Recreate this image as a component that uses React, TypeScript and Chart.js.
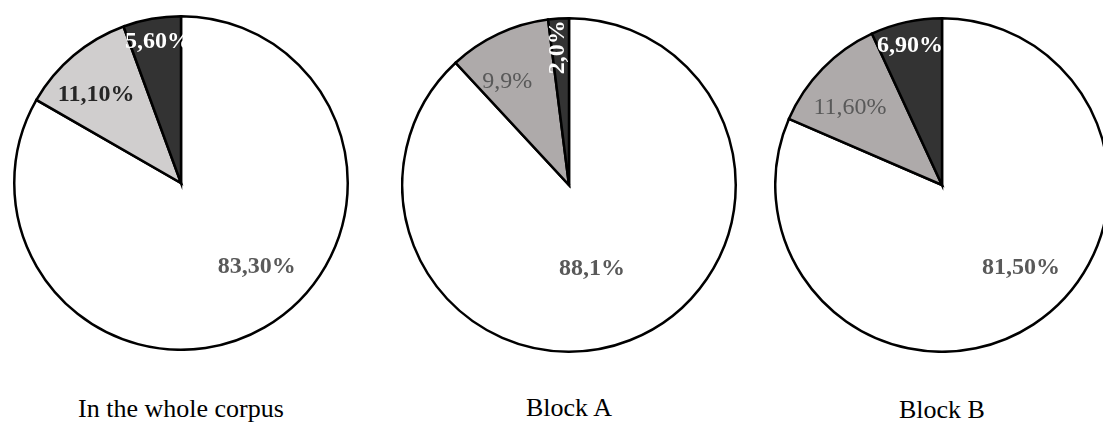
import React, { useEffect, useRef } from 'react';
import { Chart, registerables } from 'chart.js';

Chart.register(...registerables);

const categories = ['Group 1', 'Group 2', 'Group 3'];

const corpusValues = [83.3, 11.1, 5.6];
const blockAValues = [88.1, 9.9, 2.0];
const blockBValues = [81.5, 11.6, 6.9];

const corpusLabels = ['83,30%', '11,10%', '5,60%'];
const blockALabels = ['88,1%', '9,9%', '2,0%'];
const blockBLabels = ['81,50%', '11,60%', '6,90%'];

const chartTitles = ['In the whole corpus', 'Block A', 'Block B'];

type LabelStyle = { f: number; d: number; color: string; bold: boolean; rot?: number };

type PieSpec = {
  values: number[];
  texts: string[];
  title: string;
  colors: string[];
  cx: number;
  cy: number;
  titleTop: number;
  styles: LabelStyle[];
};

const GRAY_TEXT = '#595959';

const pies: PieSpec[] = [
  {
    values: corpusValues,
    texts: corpusLabels,
    title: chartTitles[0],
    colors: ['#ffffff', '#d0cece', '#333333'],
    cx: 181,
    cy: 183,
    titleTop: 396,
    styles: [
      { f: 0.678, d: -12, color: GRAY_TEXT, bold: true },
      { f: 0.732, d: -3.9, color: '#262626', bold: true },
      { f: 0.856, d: 0.8, color: '#ffffff', bold: true },
    ],
  },
  {
    values: blockAValues,
    texts: blockALabels,
    title: chartTitles[1],
    colors: ['#ffffff', '#aeaaaa', '#333333'],
    cx: 569,
    cy: 184.5,
    titleTop: 395,
    styles: [
      { f: 0.522, d: 6.1, color: GRAY_TEXT, bold: true },
      { f: 0.72, d: -6.0, color: GRAY_TEXT, bold: false },
      { f: 0.829, d: -1.0, color: '#ffffff', bold: true, rot: -90 },
    ],
  },
  {
    values: blockBValues,
    texts: blockBLabels,
    title: chartTitles[2],
    colors: ['#ffffff', '#aeaaaa', '#333333'],
    cx: 942,
    cy: 184.5,
    titleTop: 397,
    styles: [
      { f: 0.686, d: -10.3, color: GRAY_TEXT, bold: true },
      { f: 0.719, d: -4.4, color: GRAY_TEXT, bold: false },
      { f: 0.854, d: -0.6, color: '#ffffff', bold: true },
    ],
  },
];

const SIZE = 336;

function makeLabelPlugin(spec: PieSpec) {
  return {
    id: 'sliceLabels',
    afterDatasetsDraw(chart: any) {
      const meta = chart.getDatasetMeta(0);
      const ctx = chart.ctx as CanvasRenderingContext2D;
      meta.data.forEach((arc: any, i: number) => {
        const p = arc.getProps(['x', 'y', 'startAngle', 'endAngle', 'outerRadius'], true);
        const s = spec.styles[i];
        const a = (p.startAngle + p.endAngle) / 2 + (s.d * Math.PI) / 180;
        const r = p.outerRadius * s.f;
        const x = p.x + Math.cos(a) * r;
        const y = p.y + Math.sin(a) * r;
        ctx.save();
        ctx.translate(x, y);
        if (s.rot) ctx.rotate((s.rot * Math.PI) / 180);
        ctx.font = `${s.bold ? 'bold ' : ''}24px "Liberation Serif", "Times New Roman", serif`;
        ctx.fillStyle = s.color;
        ctx.textAlign = 'center';
        ctx.textBaseline = 'middle';
        ctx.fillText(spec.texts[i], 0, 0);
        ctx.restore();
      });
    },
  };
}

function PieChart({ spec }: { spec: PieSpec }) {
  const ref = useRef<HTMLCanvasElement | null>(null);
  useEffect(() => {
    if (!ref.current) return;
    const chart = new Chart(ref.current, {
      type: 'pie',
      data: {
        labels: categories,
        datasets: [
          {
            data: spec.values,
            backgroundColor: spec.colors,
            borderColor: '#000000',
            borderWidth: 2.5,
            borderJoinStyle: 'miter',
          } as any,
        ],
      },
      options: {
        animation: false,
        responsive: false,
        maintainAspectRatio: false,
        events: [],
        layout: { padding: 0 },
        plugins: {
          legend: { display: false },
          tooltip: { enabled: false },
          title: { display: false },
        },
      },
      plugins: [makeLabelPlugin(spec)],
    });
    return () => chart.destroy();
  }, [spec]);

  return (
    <>
      <canvas
        ref={ref}
        width={SIZE}
        height={SIZE}
        style={{
          position: 'absolute',
          left: spec.cx - SIZE / 2,
          top: spec.cy - SIZE / 2,
          width: SIZE,
          height: SIZE,
        }}
      />
      <div
        style={{
          position: 'absolute',
          left: spec.cx - 160,
          width: 320,
          top: spec.titleTop,
          textAlign: 'center',
          fontFamily: '"Liberation Serif", "Times New Roman", serif',
          fontSize: 26,
          lineHeight: '26px',
          color: '#000000',
          whiteSpace: 'nowrap',
        }}
      >
        {spec.title}
      </div>
    </>
  );
}

export default function App() {
  return (
    <div
      style={{
        position: 'fixed',
        left: 0,
        top: 0,
        width: 1103,
        height: 426,
        overflow: 'hidden',
        background: '#ffffff',
      }}
    >
      {pies.map((p, i) => (
        <PieChart key={i} spec={p} />
      ))}
    </div>
  );
}
